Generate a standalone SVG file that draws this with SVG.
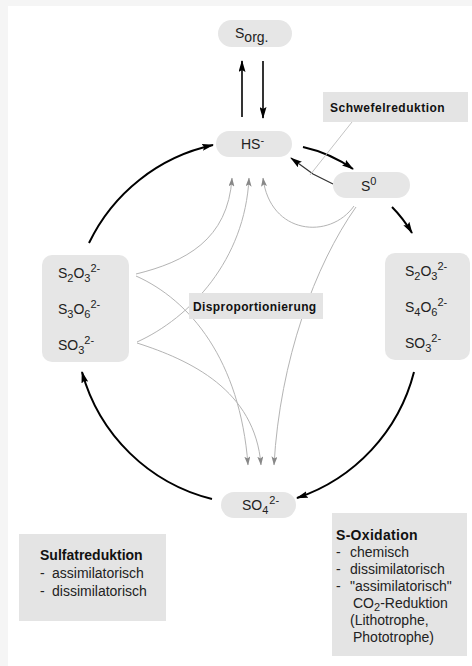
<svg xmlns="http://www.w3.org/2000/svg" width="472" height="666" viewBox="0 0 472 666">
  <style>
    .node { fill: #e6e6e6; stroke: none; }
    .lbl { fill: #e4e4e4; stroke: none; }
    .t { font-family: "Liberation Sans", Arial, sans-serif; font-size: 14px; fill: #222; }
    .b { font-family: "Liberation Sans", Arial, sans-serif; font-weight: bold; fill: #111; }
    .s { font-size: 11px; }
    .cyc { fill: none; stroke: #000; stroke-width: 2; }
    .thin { fill: none; stroke: #333; stroke-width: 1.2; }
    .dis { fill: none; stroke: #b4b4b4; stroke-width: 1; }
  </style>
  <defs>
    <marker id="ah" viewBox="0 0 12 7" refX="11" refY="3.5" markerWidth="12" markerHeight="7" orient="auto" markerUnits="userSpaceOnUse">
      <path d="M0,0 L12,3.5 L0,7 L2,3.5 z" fill="#000"/>
    </marker>
    <marker id="ahg" viewBox="0 0 9 6" refX="8.5" refY="3" markerWidth="9" markerHeight="6" orient="auto" markerUnits="userSpaceOnUse">
      <path d="M0,0 L9,3 L0,6 L2,3 z" fill="#888"/>
    </marker>
  </defs>

  <!-- page background with light frame strips -->
  <rect x="0" y="0" width="472" height="666" fill="#ffffff"/>
  <rect x="0" y="0" width="472" height="6" fill="#f5f5f5"/>
  <rect x="0" y="0" width="8" height="666" fill="#f5f5f5"/>

  <!-- connectors -->
  <g id="connectors">
    <!-- main cycle -->
    <path class="cyc" d="M89,243 A180,180 0 0 1 213,145" marker-end="url(#ah)"/>
    <path class="cyc" d="M303,147 Q330,153 353,169" marker-end="url(#ah)"/>
    <path class="cyc" d="M392,207 Q403,218 412,233" marker-end="url(#ah)"/>
    <path class="cyc" d="M414,372 A180,180 0 0 1 297,498" marker-end="url(#ah)"/>
    <path class="cyc" d="M212,499 A180,180 0 0 1 82,372" marker-end="url(#ah)"/>
    <!-- S org. exchange -->
    <path class="cyc" d="M242,117 L242,61" marker-end="url(#ah)" style="stroke-width:1.6"/>
    <path class="cyc" d="M263,61 L263,118" marker-end="url(#ah)" style="stroke-width:1.6"/>
    <!-- sulfur reduction back to sulfide -->
    <path class="thin" d="M333,184 L313,174 L291,158" marker-end="url(#ah)"/>
    <path d="M352,122 L310,175" fill="none" stroke="#c4c4c4" stroke-width="1"/>
    <!-- disproportionation -->
    <path class="dis" d="M136,274 C185,262 228,240 232,178" marker-end="url(#ahg)"/>
    <path class="dis" d="M137,342 C190,318 245,260 249,178" marker-end="url(#ahg)"/>
    <path class="dis" d="M354,206 C330,240 270,235 263,178" marker-end="url(#ahg)"/>
    <path class="dis" d="M136,276 C190,300 240,360 248,465" marker-end="url(#ahg)"/>
    <path class="dis" d="M137,343 C190,360 255,390 261,465" marker-end="url(#ahg)"/>
    <path class="dis" d="M356,207 C315,265 280,360 274,465" marker-end="url(#ahg)"/>
  </g>

  <!-- nodes -->
  <g id="n-sorg">
    <rect class="node" x="218" y="20" width="74" height="27" rx="13.5"/>
    <text class="t" x="235" y="38">S<tspan dy="4">org.</tspan></text>
  </g>
  <g id="n-hs">
    <rect class="node" x="216" y="131" width="76" height="26" rx="13"/>
    <text class="t" x="241" y="149">HS<tspan class="s" dy="-5">-</tspan></text>
  </g>
  <g id="n-s0">
    <rect class="node" x="333" y="172" width="77" height="26" rx="13"/>
    <text class="t" x="361" y="191">S<tspan class="s" dy="-6">0</tspan></text>
  </g>
  <g id="n-left">
    <rect class="node" x="42" y="255" width="87" height="107" rx="10"/>
    <text class="t" x="58" y="278">S<tspan class="s" dy="4">2</tspan><tspan dy="-4">O</tspan><tspan class="s" dy="4">3</tspan><tspan class="s" dy="-10">2-</tspan></text>
    <text class="t" x="58" y="314">S<tspan class="s" dy="4">3</tspan><tspan dy="-4">O</tspan><tspan class="s" dy="4">6</tspan><tspan class="s" dy="-10">2-</tspan></text>
    <text class="t" x="58" y="350">SO<tspan class="s" dy="4">3</tspan><tspan class="s" dy="-10">2-</tspan></text>
  </g>
  <g id="n-right">
    <rect class="node" x="385" y="253" width="85" height="107" rx="10"/>
    <text class="t" x="405" y="276">S<tspan class="s" dy="4">2</tspan><tspan dy="-4">O</tspan><tspan class="s" dy="4">3</tspan><tspan class="s" dy="-10">2-</tspan></text>
    <text class="t" x="405" y="312">S<tspan class="s" dy="4">4</tspan><tspan dy="-4">O</tspan><tspan class="s" dy="4">6</tspan><tspan class="s" dy="-10">2-</tspan></text>
    <text class="t" x="405" y="348">SO<tspan class="s" dy="4">3</tspan><tspan class="s" dy="-10">2-</tspan></text>
  </g>
  <g id="n-so4">
    <rect class="node" x="221" y="492" width="75" height="26" rx="13"/>
    <text class="t" x="242" y="510">SO<tspan class="s" dy="4">4</tspan><tspan class="s" dy="-10" dx="1">2-</tspan></text>
  </g>

  <!-- process labels -->
  <g id="l-schwefel">
    <rect class="lbl" x="323" y="92" width="145" height="30"/>
    <text class="b" x="330" y="112" font-size="12" letter-spacing="0.5">Schwefelreduktion</text>
  </g>
  <g id="l-dispro">
    <rect class="lbl" x="189" y="293" width="134" height="26"/>
    <text class="b" x="193" y="311" font-size="12" letter-spacing="0.4">Disproportionierung</text>
  </g>
  <g id="l-sulfat">
    <rect class="lbl" x="19" y="534" width="147" height="87"/>
    <text class="b" x="40" y="560" font-size="14">Sulfatreduktion</text>
    <text class="t" y="578"><tspan x="40">-</tspan><tspan x="52">assimilatorisch</tspan></text>
    <text class="t" y="596"><tspan x="40">-</tspan><tspan x="52">dissimilatorisch</tspan></text>
  </g>
  <g id="l-oxid">
    <rect class="lbl" x="332" y="513" width="135" height="143"/>
    <text class="b" x="336" y="540" font-size="14" letter-spacing="0.3">S-Oxidation</text>
    <text class="t" y="557"><tspan x="336">-</tspan><tspan x="350">chemisch</tspan></text>
    <text class="t" y="574"><tspan x="336">-</tspan><tspan x="350">dissimilatorisch</tspan></text>
    <text class="t" y="591"><tspan x="336">-</tspan><tspan x="350">"assimilatorisch"</tspan></text>
    <text class="t" x="353" y="608">CO<tspan class="s" dy="3">2</tspan><tspan dy="-3">-Reduktion</tspan></text>
    <text class="t" x="350" y="625">(Lithotrophe,</text>
    <text class="t" x="353" y="642">Phototrophe)</text>
  </g>
</svg>
